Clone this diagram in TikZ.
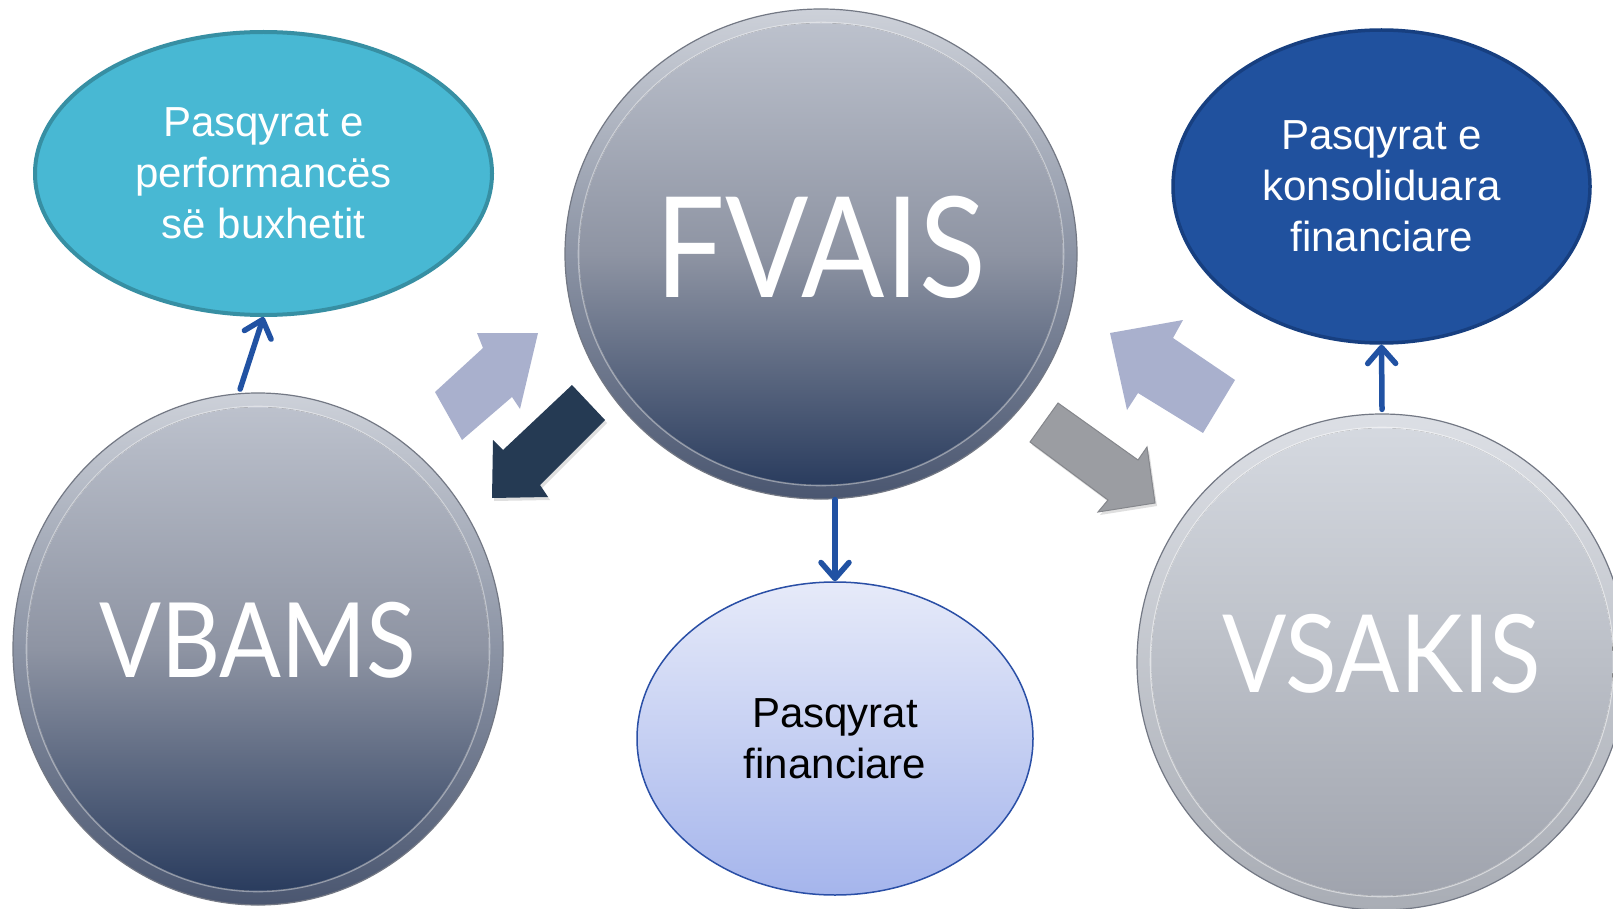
\documentclass[tikz,border=0pt]{standalone}
\usepackage{fontspec}
\setmainfont{Liberation Sans}
\newfontfamily\discfont[FakeStretch=0.88]{Lato}
\usetikzlibrary{arrows.meta,shapes.geometric,shadows}
\definecolor{faceTop}{HTML}{BFC4CF}
\definecolor{faceMid}{HTML}{8E94A3}
\definecolor{faceBot}{HTML}{24375A}
\definecolor{rimTop}{HTML}{CDD1D9}
\definecolor{rimBot}{HTML}{4A5670}
\definecolor{lfaceTop}{HTML}{D6DAE1}
\definecolor{lfaceMid}{HTML}{BBBFC7}
\definecolor{lfaceBot}{HTML}{9EA2AC}
\definecolor{lrimTop}{HTML}{DCDFE5}
\definecolor{lrimBot}{HTML}{A9ADB5}
\definecolor{rimLine}{HTML}{737884}
\definecolor{tealFill}{HTML}{48B8D3}
\definecolor{tealLine}{HTML}{378FA3}
\definecolor{navyFill}{HTML}{20519E}
\definecolor{navyLine}{HTML}{173F80}
\definecolor{paleTop}{HTML}{E6EAF9}
\definecolor{paleBot}{HTML}{A5B5EC}
\definecolor{paleLine}{HTML}{2A4FA6}
\definecolor{linkBlue}{HTML}{2152A3}
\definecolor{lavArrow}{HTML}{A9B0CD}
\definecolor{navyArrow}{HTML}{253A53}
\definecolor{grayArrow}{HTML}{9B9DA2}
\definecolor{grayEdge}{HTML}{85878C}
\begin{document}
\begin{tikzpicture}[x=1pt,y=-1pt,
  darkdisc/.style 2 args={ellipse, inner sep=0pt, minimum width=2*#1, minimum height=2*#2,
    draw=rimLine, line width=1.2pt, top color=rimTop, bottom color=rimBot,
    path picture={
      \fill[top color=faceTop, bottom color=faceBot, middle color=faceMid]
        (path picture bounding box.center) ellipse [x radius=#1pt-14pt, y radius=#2pt-14pt];
      \draw[white, opacity=0.4, line width=1.6pt]
        (path picture bounding box.center) ellipse [x radius=#1pt-13.5pt, y radius=#2pt-13.5pt];
    }},
  lightdisc/.style 2 args={ellipse, inner sep=0pt, minimum width=2*#1, minimum height=2*#2,
    draw=rimLine, line width=1.2pt, top color=lrimTop, bottom color=lrimBot,
    path picture={
      \fill[top color=lfaceTop, bottom color=lfaceBot, middle color=lfaceMid]
        (path picture bounding box.center) ellipse [x radius=#1pt-14pt, y radius=#2pt-14pt];
      \draw[white, opacity=0.5, line width=1.6pt]
        (path picture bounding box.center) ellipse [x radius=#1pt-13.5pt, y radius=#2pt-13.5pt];
    }},
  disctext/.style={inner sep=0pt, text=white},
  oval/.style={ellipse, inner sep=0pt, align=center, font=\fontsize{42}{51}\selectfont},
  link/.style={draw=linkBlue, line width=5.5pt, line cap=round,
    -{Straight Barb[length=16pt,width=28pt,line width=5.5pt,round]}},
  blockshadow/.style={drop shadow={opacity=0.25, shadow xshift=2pt, shadow yshift=-3pt}}
]
\useasboundingbox (0,0) rectangle (1613,909);
\fill[white] (0,0) rectangle (1613,909);

% discs
\node[darkdisc={256}{245}] (fvais) at (821,254) {};
\node[darkdisc={245}{256}] (vbams) at (258,649) {};
\node[lightdisc={245}{248}] (vsakis) at (1382,662) {};

\node[disctext, font=\discfont\fontsize{140}{140}\selectfont, yshift=7pt] (fvaisname) at (fvais.center) {FVAIS};
\node[disctext, font=\discfont\fontsize{104}{104}\selectfont, yshift=9pt] (vbamsname) at (vbams.center) {VBAMS};
\node[disctext, font=\discfont\fontsize{108}{108}\selectfont, yshift=8pt] (vsakisname) at (vsakis.center) {VSAKIS};

% ovals
\node[oval, fill=tealFill, draw=tealLine, line width=4pt, text=white,
  minimum width=457, minimum height=283] (perf) at (263.5,173.5)
  {Pasqyrat e\\performancës\\së buxhetit};
\node[oval, fill=navyFill, draw=navyLine, line width=3.5pt, text=white,
  minimum width=417, minimum height=313] (cons) at (1381.5,186.5)
  {Pasqyrat e\\konsoliduara\\financiare};
\node[oval, top color=paleTop, bottom color=paleBot, draw=paleLine, line width=1.5pt, text=black,
  minimum width=396, minimum height=313] (fin) at (835,738.5)
  {Pasqyrat\\financiare};

% thin connectors
\draw[link] ([yshift=4pt]vbams.94) -- (perf.south);
\draw[link] (fvais.south -| fin.north) -- (fin.north);
\draw[link] ([yshift=4pt]vsakis.north) -- (cons.south);

% block arrows
\fill[lavArrow] (435,392) -- (483,348) -- (477,333) -- (538,333) -- (520,409)
  -- (512,397) -- (462,440) -- cycle;
\fill[navyArrow, blockshadow] (572,385) -- (605,420) -- (540,485) -- (548,497)
  -- (492,498) -- (493,440) -- (503,450) -- cycle;
\fill[lavArrow] (1110,333) -- (1183,320) -- (1173,338) -- (1235,380) -- (1203,433)
  -- (1138,393) -- (1127,410) -- cycle;
\filldraw[fill=grayArrow, draw=grayEdge, line width=1pt, blockshadow] (1058,403) -- (1030,442)
  -- (1108,500) -- (1098,512) -- (1155,503) -- (1147,447) -- (1138,460) -- cycle;
\end{tikzpicture}
\end{document}
